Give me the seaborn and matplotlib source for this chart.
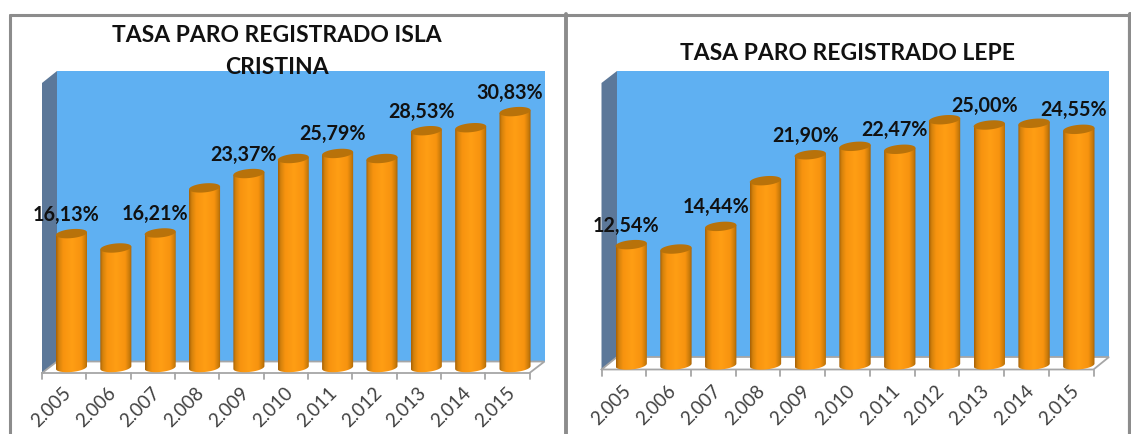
import matplotlib

matplotlib.use("Agg")

import matplotlib.pyplot as plt
import matplotlib.transforms as mtrans
import numpy as np
import seaborn as sns
from matplotlib.colors import LinearSegmentedColormap
from matplotlib.patches import PathPatch, Polygon, Rectangle
from matplotlib.path import Path

W, H = 1131, 435

years = ["2.005", "2.006", "2.007", "2.008", "2.009", "2.010", "2.011", "2.012", "2.013", "2.014", "2.015"]
isla_values = [16.13, 14.40, 16.21, 21.64, 23.37, 25.18, 25.79, 25.18, 28.53, 28.89, 30.83]
lepe_values = [12.54, 12.08, 14.44, 19.20, 21.90, 22.78, 22.47, 25.55, 25.00, 25.18, 24.55]
isla_title = "TASA PARO REGISTRADO ISLA\nCRISTINA"
lepe_title = "TASA PARO REGISTRADO LEPE"
isla_ymax = 35
lepe_ymax = 30

WALL = "#5FB0F2"
SIDE = "#5C7899"
TOP_CAP = "#B8720A"
FRAME = "#8C8C8C"
EDGE = "#A6A6A6"

cyl_cmap = LinearSegmentedColormap.from_list(
    "cyl",
    [(0, "#A86206"), (0.08, "#D4820C"), (0.22, "#F7930F"), (0.5, "#FF9E14"), (0.8, "#F7930F"), (0.93, "#C97B0A"), (1, "#A86206")],
)


def draw_chrome(bg, left, right, back_top, back_bottom, front_bottom, depth, rise):
    # back wall, left side wall and floor of the fake 3D box
    bg.add_patch(Rectangle((left + depth, back_top), right - left - depth, back_bottom - back_top, color=WALL, lw=0))
    bg.add_patch(Polygon(
        [(left, back_top + rise), (left + depth, back_top), (left + depth, back_bottom), (left, front_bottom)],
        color=SIDE, lw=0,
    ))
    front_right = right - depth
    bg.plot([left, left + depth, right, front_right, left], [front_bottom, back_bottom, back_bottom, front_bottom, front_bottom],
            color=EDGE, lw=1.3, solid_joinstyle="miter")
    for x in np.linspace(left, front_right, 12):
        bg.plot([x, x], [front_bottom, front_bottom + 6], color=EDGE, lw=1.3)


def draw_cylinders(fig, ax, ymax, px_per_unit):
    px_per_cat = ax.get_window_extent().width / 11
    half_h = 4.5 / px_per_unit
    tilt = 0.09 * px_per_cat / px_per_unit
    ts = np.linspace(0, np.pi, 40)
    for bar in list(ax.patches):
        x0, w, v = bar.get_x(), bar.get_width(), bar.get_height()
        cx = x0 + w / 2
        ell_x = cx - np.cos(ts) * w / 2
        # lower half of the tilted ellipse at the base
        low_y = -np.sin(ts) * half_h - np.cos(ts) * tilt * w / 2
        body = np.vstack([
            np.column_stack([ell_x, low_y]),
            [[x0 + w, v + tilt * w / 2], [x0, v - tilt * w / 2]],
        ])
        clip = PathPatch(Path(np.vstack([body, body[0]])), transform=ax.transData, fc="none", ec="none")
        ax.add_patch(clip)
        bar.set_visible(False)
        im = ax.imshow(
            np.linspace(0, 1, 64).reshape(1, -1), cmap=cyl_cmap, aspect="auto", zorder=3,
            extent=(x0, x0 + w, -2 * half_h, v + 2 * half_h),
        )
        im.set_clip_path(clip)
        im.set_clip_box(fig.bbox)
        # cap
        all_t = np.linspace(0, 2 * np.pi, 60)
        cap = np.column_stack([
            cx + np.cos(all_t) * w / 2,
            v + np.sin(all_t) * half_h + np.cos(all_t) * tilt * w / 2,
        ])
        ax.add_patch(Polygon(cap, color=TOP_CAP, lw=0, zorder=4))
    ax.set_xlim(-0.5, 10.5)
    ax.set_ylim(0, ymax)


def chart(fig, box, values, ymax, title, title_xy):
    x0, x1, y_top, y_base = box
    ax = fig.add_axes([x0 / W, 1 - y_base / H, (x1 - x0) / W, (y_base - y_top) / H], zorder=2)
    ax.patch.set_visible(False)
    sns.barplot(x=years, y=values, ax=ax, color="#FF9E14", width=0.7, saturation=1)
    draw_cylinders(fig, ax, ymax, (y_base - y_top) / ymax)

    for s in ax.spines.values():
        s.set_visible(False)
    ax.set_yticks([])
    ax.set_xlabel("")
    ax.set_ylabel("")
    ax.tick_params(axis="x", length=0, pad=0)
    ax.set_xticks(range(len(years)), years, rotation=45, ha="right", rotation_mode="anchor", fontsize=13.5, color="#404040")
    shift = mtrans.ScaledTranslation(-9 / 100, -16 / 100, fig.dpi_scale_trans)
    for lab in ax.get_xticklabels():
        lab.set_transform(lab.get_transform() + shift)

    # every other bar carries its value
    for i, v in enumerate(values):
        if i % 2 == 0:
            text = f"{v:.2f}".replace(".", ",") + "%"
            ax.annotate(text, (i, v), xytext=(-5, 20), textcoords="offset pixels", ha="center", va="center",
                        fontsize=14.2, fontweight="bold", color="#111111", zorder=6, annotation_clip=False)

    fig.text(title_xy[0] / W, 1 - title_xy[1] / H, title, ha="center", va="center", fontsize=16.5,
             fontweight="bold", color="#111111", zorder=10, linespacing=1.68)


def main():
    sns.set_theme(style="white")
    plt.rcParams["font.family"] = ["Lato", "DejaVu Sans"]

    fig = plt.figure(figsize=(W / 100, H / 100), dpi=100, facecolor="white")

    bg = fig.add_axes([0, 0, 1, 1], zorder=0)
    bg.set_xlim(0, W)
    bg.set_ylim(H, 0)
    bg.axis("off")

    # panel frame, open at the bottom
    bg.plot([10, 10], [H, 15.5], color=FRAME, lw=2.2)
    bg.plot([10, W], [15.5, 15.5], color=FRAME, lw=2.2)
    bg.plot([566, 566], [15, H], color=FRAME, lw=2.8)
    bg.plot([1129.5, 1129.5], [15, H], color=FRAME, lw=3)

    draw_chrome(bg, 42, 544.5, 72, 362.5, 374, 15, 12)
    draw_chrome(bg, 601.5, 1109, 72, 358, 370.5, 15.5, 12)

    chart(fig, (49.3, 537.2, 78, 368.5), isla_values, isla_ymax, isla_title, (277, 51.5))
    chart(fig, (608.8, 1101.2, 78, 366), lepe_values, lepe_ymax, lepe_title, (848, 54))

    fig.savefig("out.png", dpi=100, facecolor="white")


if __name__ == "__main__":
    main()
